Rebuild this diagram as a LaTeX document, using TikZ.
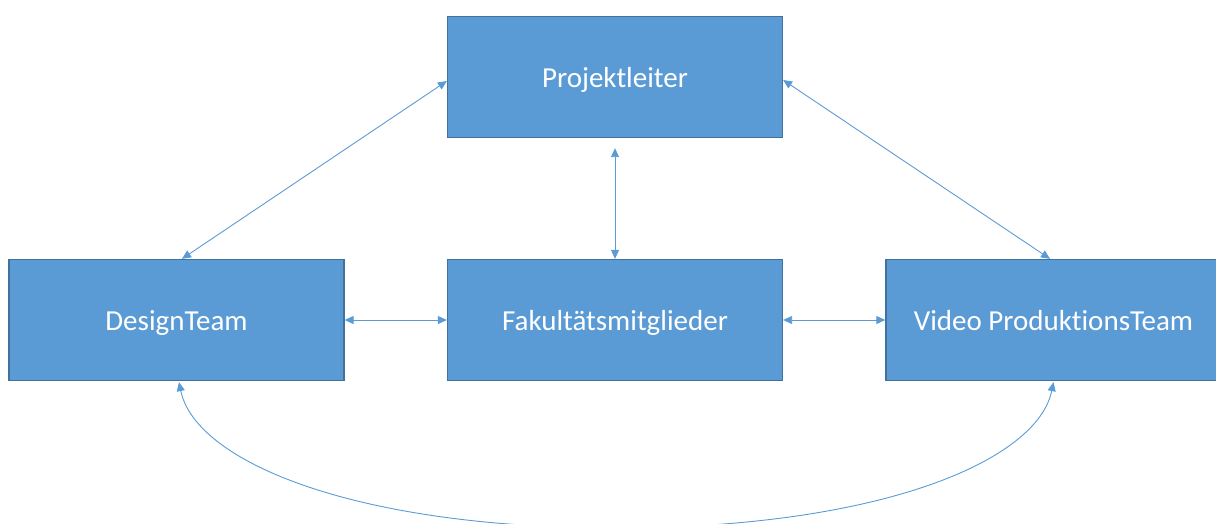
\documentclass[tikz,border=0pt]{standalone}
\usepackage{fontspec}
\setmainfont{Carlito}[Ligatures=NoCommon]
\usetikzlibrary{arrows.meta}
\definecolor{boxfill}{HTML}{5B9BD5}
\definecolor{boxline}{HTML}{41719C}
\definecolor{linkcol}{HTML}{5B9BD5}
\tikzset{
  teambox/.style={draw=boxline, line width=1.3pt, fill=boxfill, text=white,
    minimum width=335pt, minimum height=121pt, inner sep=0pt,
    font=\fontsize{29}{35}\selectfont, text height=24pt, text depth=4pt},
  link/.style={draw=linkcol, line width=0.9pt,
    {Triangle[length=9pt,width=8pt]}-{Triangle[length=9pt,width=8pt]}}
}
\begin{document}
\begin{tikzpicture}[x=1pt,y=-1pt]
  \useasboundingbox (0,0) rectangle (1216,523);
  \clip (0,0) rectangle (1216,523);

  % team boxes
  \node[teambox] (lead)   at (615,77)    {Projektleiter};
  \node[teambox] (design) at (176.5,320) {DesignTeam};
  \node[teambox] (fac)    at (615,320)   {Fakultätsmitglieder};
  \node[teambox] (video)  at (1053.5,320) {Video ProduktionsTeam};

  \coordinate (low) at (616,528);

  % two-way links
  \draw[link] ([yshift=-4pt]lead.west) -- ([xshift=5.5pt]design.north);
  \draw[link] ([yshift=-3pt]lead.east) -- ([xshift=-3.5pt]video.north);
  \draw[link] ([yshift=-10pt]lead.south) -- (fac.north);
  \draw[link] (design.east) -- (fac.west);
  \draw[link] (fac.east) -- (video.west);
  \draw[link] ([xshift=2.5pt,yshift=-1pt]design.south)
      .. controls +(16pt,-78pt) and +(-266pt,0pt) .. (low)
      .. controls +(266pt,0pt) and +(-16pt,-78pt) .. ([yshift=-1pt]video.south);
\end{tikzpicture}
\end{document}
